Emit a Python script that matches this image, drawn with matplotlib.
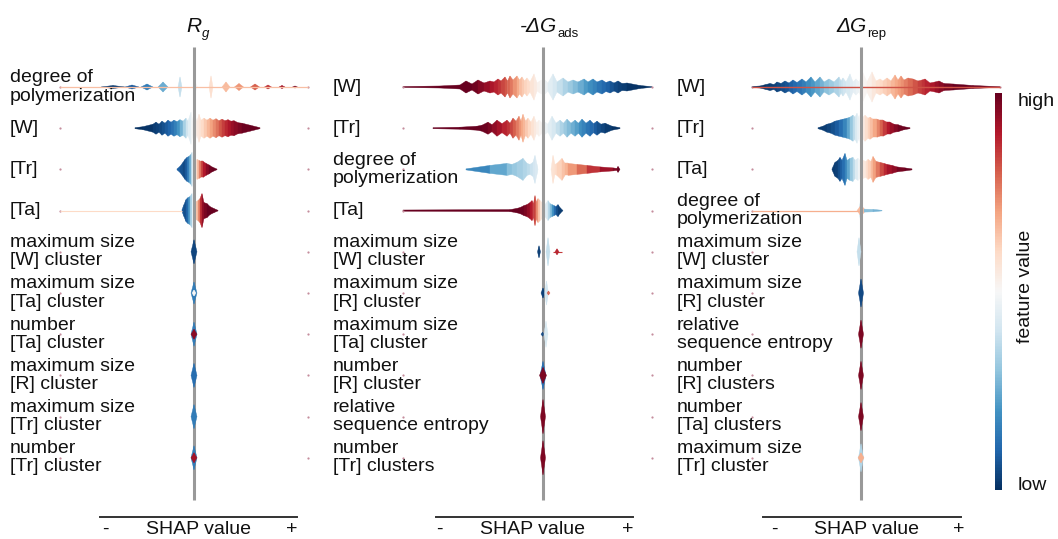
import matplotlib
matplotlib.use('Agg')
import matplotlib.pyplot as plt
from matplotlib import colorbar, colors

plt.rcParams['font.family'] = 'Liberation Sans'

CMAP = plt.get_cmap('RdBu_r')

# ---- data: SHAP value (x), density in px (h), feature value colour 0..1 (c) ----
TITLE_MAIN = ['R', '-ΔG', 'ΔG']
TITLE_SUB = ['g', 'ads', 'rep']

RG_LABELS = ['degree of\npolymerization', '[W]', '[Tr]', '[Ta]',
             'maximum size\n[W] cluster', 'maximum size\n[Ta] cluster',
             'number\n[Ta] cluster', 'maximum size\n[R] cluster',
             'maximum size\n[Tr] cluster', 'number\n[Tr] cluster']
ADS_LABELS = ['[W]', '[Tr]', 'degree of\npolymerization', '[Ta]',
              'maximum size\n[W] cluster', 'maximum size\n[R] cluster',
              'maximum size\n[Ta] cluster', 'number\n[R] cluster',
              'relative\nsequence entropy', 'number\n[Tr] clusters']
REP_LABELS = ['[W]', '[Tr]', '[Ta]', 'degree of\npolymerization',
              'maximum size\n[W] cluster', 'maximum size\n[R] cluster',
              'relative\nsequence entropy', 'number\n[R] clusters',
              'number\n[Ta] clusters', 'maximum size\n[Tr] cluster']

RG_RANGE = (-1.34, 1.14)
ADS_RANGE = (-1.40, 1.09)
REP_RANGE = (-1.09, 1.39)

RG_PROFILES = [
    (0, [(-0.93, 0, .02), (-0.81, 1.5, .02), (-0.69, 0, .02),
         (-0.69, 0, .08), (-0.62, 2, .08), (-0.55, 0, .08),
         (-0.53, 0, .15), (-0.47, 3, .15), (-0.41, 0, .15),
         (-0.36, 0, .25), (-0.31, 5, .25), (-0.26, 0, .25),
         (-0.16, 0, .38), (-0.14, 10, .38), (-0.12, 0, .38),
         (0.005, 0, .5), (0.02, 3, .5), (0.035, 0, .5),
         (0.15, 0, .58), (0.17, 11, .58), (0.19, 0, .58),
         (0.28, 0, .66), (0.32, 5, .66), (0.36, 0, .66),
         (0.405, 0, .72), (0.45, 3.5, .72), (0.495, 0, .72),
         (0.565, 0, .8), (0.61, 3, .8), (0.655, 0, .8),
         (0.705, 0, .86), (0.74, 2, .86), (0.775, 0, .86),
         (0.85, 0, .92), (0.88, 1.5, .92), (0.91, 0, .92),
         (0.985, 0, .98), (1.01, 1, .98), (1.035, 0, .98)]),
    (1, [(-0.59, 0.5, .0), (-0.51, 1.5, .0), (-0.41, 4, .02), (-0.38, 6, .03),
         (-0.35, 4, .04), (-0.32, 7, .05), (-0.29, 5, .07), (-0.26, 8, .09),
         (-0.23, 6, .11), (-0.20, 8, .14), (-0.17, 6.5, .18), (-0.14, 8.5, .22),
         (-0.11, 7, .3), (-0.08, 10, .37), (-0.06, 7, .42), (-0.03, 16, .47),
         (-0.01, 6, .5), (0.01, 12, .52), (0.03, 7, .54), (0.05, 14, .56),
         (0.07, 8, .58), (0.10, 10, .61), (0.13, 8, .65), (0.16, 10, .68),
         (0.19, 8, .72), (0.22, 9.5, .75), (0.25, 7.5, .79), (0.28, 9, .83),
         (0.31, 7.5, .86), (0.34, 8.5, .89), (0.37, 7, .92), (0.40, 7.5, .94),
         (0.44, 5.5, .96), (0.48, 5, .98), (0.56, 3, 1.0), (0.66, 0.5, 1.0)]),
    (2, [(-0.17, 0.5, .1), (-0.14, 3, .08), (-0.11, 7, .05), (-0.09, 10, .05),
         (-0.07, 12, .1), (-0.05, 13, .18), (-0.03, 15, .3), (-0.02, 17, .4),
         (-0.005, 9, .47), (0.01, 7, .52), (0.03, 10, .6), (0.05, 9, .7),
         (0.07, 8, .8), (0.09, 8, .87), (0.12, 6, .93), (0.15, 4.5, .97),
         (0.18, 2.5, 1.0), (0.23, 0.3, 1.0)]),
    (3, [(-0.12, 1, .1), (-0.10, 6, .05), (-0.08, 11, .06), (-0.06, 13, .12),
         (-0.04, 14, .25), (-0.02, 17, .4), (0.0, 6, .5), (0.02, 9, .6),
         (0.04, 10, .68), (0.06, 12, .8), (0.08, 17, .93), (0.10, 8, .95),
         (0.13, 7, 1.0), (0.16, 4, 1.0), (0.20, 2, 1.0), (0.24, 0.3, 1.0)]),
    (4, [(-0.03, 0, .04), (0.0, 12, .04), (0.03, 0, .04)]),
    (5, [(-0.03, 0, .15), (0.0, 11, .15), (0.03, 0, .15)]),
    (5, [(-0.02, 0, .5), (0.0, 3, .5), (0.02, 0, .5)]),
    (6, [(-0.03, 0, .15), (0.0, 12, .15), (0.03, 0, .15)]),
    (6, [(-0.03, 0, .95), (0.0, 5, .95), (0.03, 0, .95)]),
    (7, [(-0.03, 0, .12), (0.0, 12, .12), (0.03, 0, .12)]),
    (8, [(-0.03, 0, .15), (0.0, 12, .15), (0.03, 0, .15)]),
    (9, [(-0.03, 0, .15), (0.0, 12, .15), (0.03, 0, .15)]),
    (9, [(-0.03, 0, .92), (0.0, 5, .92), (0.03, 0, .92)]),
]

ADS_PROFILES = [
    (0, [(-1.40, 0.5, 1.0), (-1.03, 1.0, 1.0), (-0.83, 2, 1.0), (-0.77, 6, 1.0),
         (-0.71, 3, 1.0), (-0.65, 7, .97), (-0.59, 4, .95), (-0.53, 6, .92),
         (-0.49, 5, .9), (-0.45, 8, .87), (-0.42, 6, .85), (-0.38, 10, .82),
         (-0.355, 6, .8), (-0.33, 11, .78), (-0.30, 7, .75), (-0.26, 11, .7),
         (-0.235, 7, .67), (-0.21, 10, .64), (-0.185, 6, .62), (-0.16, 9, .6),
         (-0.13, 5, .58), (-0.09, 13, .56), (-0.06, 4, .53), (-0.03, 6, .51),
         (0.01, 8, .49), (0.05, 4, .46), (0.10, 13, .43), (0.14, 5, .4),
         (0.20, 9, .36), (0.25, 5, .33), (0.30, 7, .3), (0.35, 5, .27),
         (0.41, 8, .23), (0.45, 5, .2), (0.50, 8, .18), (0.54, 5, .15),
         (0.59, 7, .12), (0.63, 4.5, .1), (0.67, 6, .08), (0.71, 4, .06),
         (0.75, 6, .04), (0.79, 3.5, .03), (0.84, 4, .02), (0.97, 1.5, .0),
         (1.09, 0.3, .0)]),
    (1, [(-1.10, 0.5, 1.0), (-0.83, 1, 1.0), (-0.66, 2, 1.0), (-0.61, 3, 1.0),
         (-0.55, 6, .98), (-0.51, 3.5, .96), (-0.46, 8, .93), (-0.41, 4.5, .9),
         (-0.36, 8, .87), (-0.33, 5, .85), (-0.30, 10, .82), (-0.27, 7, .78),
         (-0.24, 12, .74), (-0.22, 7, .71), (-0.20, 14, .68), (-0.175, 7, .65),
         (-0.15, 10, .62), (-0.12, 6, .59), (-0.09, 12, .56), (-0.065, 5, .54),
         (-0.04, 8, .52), (-0.01, 5, .5), (0.02, 6, .48), (0.05, 4, .46),
         (0.09, 12, .43), (0.13, 5, .4), (0.17, 8, .36), (0.205, 5, .33),
         (0.24, 9, .3), (0.28, 5, .27), (0.32, 8, .24), (0.355, 5, .21),
         (0.39, 9, .18), (0.43, 5, .15), (0.47, 8, .12), (0.505, 4.5, .1),
         (0.54, 7, .07), (0.58, 4, .05), (0.62, 5, .03), (0.69, 2, .01),
         (0.77, 0.5, .0)]),
    (2, [(-0.77, 0.5, .15), (-0.53, 4, .2), (-0.36, 6, .28), (-0.31, 5, .3),
         (-0.26, 7, .32), (-0.20, 11, .34), (-0.16, 6, .36), (-0.13, 5, .38),
         (-0.10, 7, .4), (-0.08, 14, .42), (-0.06, 5, .43), (-0.05, 0, .43),
         (0.08, 0, .57), (0.10, 14, .57), (0.12, 5, .58), (0.14, 6, .6),
         (0.19, 11, .63), (0.22, 6, .66), (0.25, 6, .68), (0.34, 5, .75),
         (0.44, 4, .82), (0.57, 2.5, .9), (0.70, 1.5, .95), (0.74, 1, .98),
         (0.75, 3, 1.0), (0.77, 0, 1.0)]),
    (3, [(-1.40, 0.6, 1.0), (-0.33, 1, 1.0), (-0.27, 2, 1.0), (-0.23, 3, 1.0),
         (-0.19, 5, .98), (-0.16, 6, .96), (-0.13, 8, .92), (-0.11, 10, .88),
         (-0.095, 7, .86), (-0.08, 15, .84), (-0.065, 8, .78), (-0.05, 12, .7),
         (-0.03, 10, .6), (-0.01, 8, .54), (0.02, 6, .48), (0.05, 10, .4),
         (0.07, 7, .32), (0.09, 6, .25), (0.11, 5, .15), (0.13, 4, .08),
         (0.15, 6, .04), (0.17, 3, .02), (0.20, 0, .02)]),
    (4, [(-0.055, 0, .03), (-0.04, 6, .03), (-0.025, 0, .03)]),
    (4, [(0.03, 0, .38), (0.05, 14, .38), (0.07, 0, .38)]),
    (4, [(0.12, 0, .88), (0.14, 3, .88), (0.16, 0, .88)]),
    (5, [(-0.02, 0, .03), (0.0, 5, .03), (0.02, 0, .03)]),
    (5, [(0.015, 0, .4), (0.035, 12, .4), (0.055, 0, .4)]),
    (5, [(0.04, 0, .8), (0.055, 2, .8), (0.07, 0, .8)]),
    (6, [(-0.02, 0, .05), (-0.005, 2, .05), (0.01, 0, .05)]),
    (6, [(0.01, 0, .42), (0.03, 13, .42), (0.05, 0, .42)]),
    (7, [(-0.03, 0, .12), (0.0, 14, .12), (0.03, 0, .12)]),
    (7, [(-0.035, 0, .97), (0.0, 8, .97), (0.035, 0, .97)]),
    (8, [(-0.025, 0, .97), (0.0, 17, .97), (0.025, 0, .97)]),
    (9, [(-0.025, 0, .97), (0.0, 17, .97), (0.025, 0, .97)]),
]

REP_PROFILES = [
    (0, [(-1.09, 0.5, .0), (-1.01, 1, .0), (-0.95, 2.5, .02), (-0.91, 3.5, .02),
         (-0.87, 2.5, .03), (-0.84, 5, .04), (-0.80, 3.5, .05), (-0.76, 6, .06),
         (-0.72, 4, .08), (-0.68, 7, .1), (-0.64, 4.5, .12), (-0.59, 8, .14),
         (-0.55, 5, .17), (-0.50, 10, .2), (-0.46, 5, .22), (-0.41, 10, .25),
         (-0.37, 5, .28), (-0.32, 8, .31), (-0.27, 5, .33), (-0.22, 10, .36),
         (-0.20, 6, .38), (-0.18, 9, .39), (-0.15, 5, .41), (-0.11, 13, .43),
         (-0.08, 5, .45), (-0.05, 8, .46), (-0.02, 5, .48), (0.02, 14, .5),
         (0.06, 5, .52), (0.11, 15, .54), (0.15, 6, .57), (0.19, 8, .59),
         (0.22, 6, .61), (0.26, 9, .63), (0.30, 6, .65), (0.34, 12, .68),
         (0.37, 7, .7), (0.40, 11, .72), (0.43, 7, .74), (0.47, 9, .77),
         (0.52, 8, .8), (0.57, 6, .83), (0.61, 7, .85), (0.64, 8, .87),
         (0.69, 4, .9), (0.74, 5, .92), (0.78, 6, .94), (0.83, 3.5, .96),
         (0.92, 3, 1.0), (1.12, 1.5, 1.0), (1.39, 0.3, 1.0)]),
    (1, [(-0.43, 0.5, .02), (-0.38, 2, .02), (-0.34, 4, .03), (-0.30, 5, .05),
         (-0.26, 7, .07), (-0.22, 8, .1), (-0.18, 9, .14), (-0.14, 10, .2),
         (-0.11, 11, .27), (-0.08, 13, .34), (-0.06, 11, .4), (-0.04, 15, .44),
         (-0.02, 10, .47), (0.0, 16, .5), (0.02, 11, .53), (0.04, 13, .56),
         (0.07, 10, .6), (0.09, 11, .63), (0.12, 9, .67), (0.16, 9, .72),
         (0.19, 8, .77), (0.22, 8, .82), (0.26, 6, .88), (0.29, 6, .91),
         (0.33, 4, .95), (0.37, 3.5, .97), (0.43, 1.5, 1.0), (0.49, 0.5, 1.0)]),
    (2, [(-0.29, 0.5, .02), (-0.26, 7, .02), (-0.23, 9, .04), (-0.21, 12, .07),
         (-0.19, 9, .1), (-0.16, 16, .14), (-0.14, 9, .2), (-0.11, 11, .27),
         (-0.08, 12, .34), (-0.06, 9, .4), (-0.03, 11, .46), (0.0, 8, .5),
         (0.02, 9, .53), (0.05, 8, .57), (0.07, 10, .6), (0.10, 8, .64),
         (0.12, 13, .68), (0.15, 8, .73), (0.19, 7, .8), (0.23, 6, .85),
         (0.26, 5, .9), (0.31, 4, .93), (0.36, 2.5, .96), (0.44, 1.5, 1.0),
         (0.51, 0.5, 1.0)]),
    (3, [(-0.02, 0, .38), (0.0, 14, .4), (0.02, 0, .38)]),
    (3, [(-0.04, 0, .65), (-0.01, 4, .66), (0.02, 3, .66), (0.05, 0, .65)]),
    (3, [(0.03, 1.5, .3), (0.12, 1.2, .28), (0.21, 0.3, .25)]),
    (4, [(-0.04, 0, .38), (-0.02, 14, .38), (0.0, 0, .38)]),
    (5, [(-0.025, 0, .05), (0.0, 14, .05), (0.025, 0, .05)]),
    (6, [(-0.025, 0, .97), (0.0, 14, .97), (0.025, 0, .97)]),
    (7, [(-0.025, 0, .97), (0.0, 14, .97), (0.025, 0, .97)]),
    (8, [(-0.025, 0, .97), (0.0, 14, .97), (0.025, 0, .97)]),
    (9, [(-0.025, 0, .35), (0.0, 14, .35), (0.025, 0, .35)]),
    (9, [(-0.03, 0, .68), (0.0, 5, .68), (0.03, 0, .68)]),
]

# thin lines: (row, x from, x to, colour, width)
RG_TAILS = [(0, -1.34, 1.14, .65, 0.9), (3, -1.34, -0.12, .6, 0.8)]
ADS_TAILS = [(4, 0.10, 0.19, .85, 0.8)]
REP_TAILS = [(0, -1.09, 1.39, .82, 1.0), (3, -1.09, 0.0, .68, 0.9)]

# ---- layout (pixels in a 1058 x 539 canvas) ----
W, H = 1058, 539
ROW0_PX, ROW_PX = 87, 41.2
PX_PER_UNIT = 100.0
AX_TOP_PX, AX_BOT_PX = 40, 517
LINE_TOP_PX, LINE_BOT_PX = 47, 500

# title_px: x where the main symbol ends and the subscript starts
panels = [
    dict(center=194, span=(100, 297), label_px=10, ticks=(-0.89, 0.04, 0.98),
         title_px=201, sub_style='italic', labels=RG_LABELS,
         profiles=RG_PROFILES, tails=RG_TAILS, rng=RG_RANGE),
    dict(center=543, span=(436, 633), label_px=333, ticks=(-1.04, -0.11, 0.85),
         title_px=557, sub_style='normal', labels=ADS_LABELS,
         profiles=ADS_PROFILES, tails=ADS_TAILS, rng=ADS_RANGE),
    dict(center=861, span=(763, 961), label_px=677, ticks=(-0.87, 0.05, 0.98),
         title_px=867, sub_style='normal', labels=REP_LABELS,
         profiles=REP_PROFILES, tails=REP_TAILS, rng=REP_RANGE),
]


def px_row(py):
    return (py - ROW0_PX) / ROW_PX


def draw_profile(ax, row, pts, z):
    s = 1.0 / ROW_PX
    for (x0, h0, c0), (x1, h1, c1) in zip(pts[:-1], pts[1:]):
        if h0 == 0 and h1 == 0:
            continue
        col = CMAP((c0 + c1) / 2)
        ax.fill([x0, x1, x1, x0],
                [row - h0 * s, row - h1 * s, row + h1 * s, row + h0 * s],
                fc=col, ec=col, lw=0.3, zorder=z, clip_on=False)


fig = plt.figure(figsize=(W / 100, H / 100), dpi=100)

for i, p in enumerate(panels):
    l, r = p['span']
    ax = fig.add_axes([l / W, (H - AX_BOT_PX) / H, (r - l) / W,
                       (AX_BOT_PX - AX_TOP_PX) / H])
    ax.set_xlim((l - p['center']) / PX_PER_UNIT, (r - p['center']) / PX_PER_UNIT)
    ax.set_ylim(px_row(AX_BOT_PX), px_row(AX_TOP_PX))

    n = len(p['labels'])
    rows = list(range(n))

    for row, pts in p['profiles']:
        draw_profile(ax, row, pts, 3 if row >= 4 else 1)
    for row, x0, x1, c, lw in p['tails']:
        ax.plot([x0, x1], [row, row], color=CMAP(c), lw=lw, zorder=1.5,
                clip_on=False, solid_capstyle='butt')

    # faint marks at the global min / max of each row
    lo, hi = p['rng']
    ax.plot([lo] * n, rows, 'o', ms=1.6, mew=0, color='#c58d9c', zorder=1, clip_on=False)
    ax.plot([hi] * n, rows, 'o', ms=1.6, mew=0, color='#c58d9c', zorder=1, clip_on=False)

    ax.vlines(0, px_row(LINE_TOP_PX), px_row(LINE_BOT_PX), color='#999999',
              lw=2.2, zorder=2)

    lab_x = (p['label_px'] - p['center']) / PX_PER_UNIT
    for row, lab in zip(rows, p['labels']):
        ax.text(lab_x, row, lab, ha='left', va='center', fontsize=14,
                linespacing=1.1, color='#111111', clip_on=False)

    # title: italic symbol + small subscript
    tx = (p['title_px'] - p['center']) / PX_PER_UNIT
    ax.text(tx, px_row(32), TITLE_MAIN[i], ha='right', va='baseline',
            fontsize=15, style='italic', color='#111111', clip_on=False)
    ax.text(tx + 0.005, px_row(37), TITLE_SUB[i], ha='left', va='baseline',
            fontsize=9.5, style=p['sub_style'], color='#111111', clip_on=False)

    for side in ('top', 'left', 'right'):
        ax.spines[side].set_visible(False)
    ax.spines['bottom'].set_color('#333333')
    ax.spines['bottom'].set_linewidth(1.4)
    ax.set_yticks([])
    ax.set_xticks(p['ticks'])
    ax.set_xticklabels(['-', 'SHAP value', '+'])
    ax.tick_params(axis='x', length=0, pad=3, labelsize=14, labelcolor='#111111')
    ax.patch.set_visible(False)

# colour bar
cax = fig.add_axes([995 / W, (H - 490) / H, 7 / W, 397 / H])
cb = colorbar.ColorbarBase(cax, cmap=CMAP, norm=colors.Normalize(0, 1))
cb.set_ticks([])
cb.outline.set_visible(False)
fig.text(1018 / W, (H - 101) / H, 'high', ha='left', va='center', fontsize=14, color='#111111')
fig.text(1018 / W, (H - 486) / H, 'low', ha='left', va='center', fontsize=14, color='#111111')
fig.text(1026 / W, (H - 286) / H, 'feature value', ha='center', va='center',
         rotation=90, fontsize=14, color='#111111')

fig.savefig('out.png', dpi=100)
